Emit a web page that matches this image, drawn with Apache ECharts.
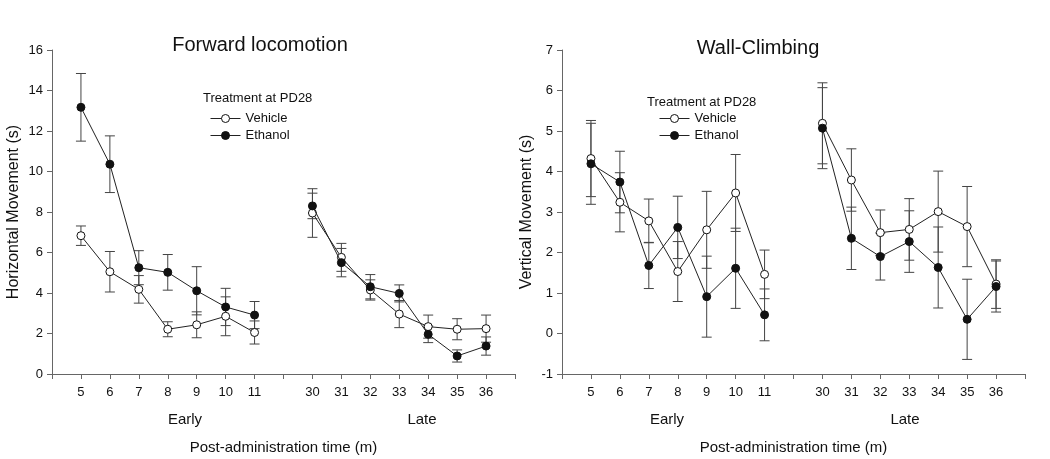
<!DOCTYPE html>
<html>
<head>
<meta charset="utf-8">
<script src="https://cdn.jsdelivr.net/npm/echarts@6/dist/echarts.min.js"></script>
<style>html,body{margin:0;padding:0;background:#fff}#c{width:1050px;height:459px}</style>
</head>
<body>
<div id="c"></div>
<script>
// ---- tick labels / categories ----
const xTickLabels = ['', '5', '6', '7', '8', '9', '10', '11', '', '30', '31', '32', '33', '34', '35', '36', ''];
const earlyTimes = [5, 6, 7, 8, 9, 10, 11];
const lateTimes = [30, 31, 32, 33, 34, 35, 36];
const leftYTicks = [0, 16, 2];   // min, max, step
const rightYTicks = [-1, 7, 1];

// ---- Forward locomotion (Horizontal Movement, s) ----
const fwdVehEarly = [6.83, 5.05, 4.18, 2.21, 2.43, 2.85, 2.05];
const fwdVehEarlySE = [0.48, 1.00, 0.68, 0.37, 0.64, 0.96, 0.57];
const fwdEthEarly = [13.17, 10.36, 5.25, 5.02, 4.11, 3.31, 2.91];
const fwdEthEarlySE = [1.67, 1.40, 0.84, 0.88, 1.19, 0.92, 0.67];
const fwdVehLate = [7.95, 5.76, 4.15, 2.96, 2.34, 2.21, 2.24];
const fwdVehLateSE = [1.20, 0.69, 0.50, 0.67, 0.57, 0.52, 0.67];
const fwdEthLate = [8.30, 5.50, 4.31, 3.98, 1.96, 0.89, 1.38];
const fwdEthLateSE = [0.63, 0.70, 0.60, 0.42, 0.41, 0.30, 0.45];

// ---- Wall-Climbing (Vertical Movement, s) ----
const wallVehEarly = [4.32, 3.24, 2.78, 1.53, 2.56, 3.47, 1.46];
const wallVehEarlySE = [0.94, 0.73, 0.54, 0.74, 0.95, 0.95, 0.60];
const wallEthEarly = [4.19, 3.74, 1.68, 2.62, 0.91, 1.61, 0.46];
const wallEthEarlySE = [1.00, 0.76, 0.57, 0.77, 1.00, 0.99, 0.64];
const wallVehLate = [5.19, 3.79, 2.49, 2.57, 3.01, 2.64, 1.22];
const wallVehLateSE = [1.00, 0.77, 0.56, 0.76, 1.00, 0.99, 0.60];
const wallEthLate = [5.07, 2.35, 1.90, 2.27, 1.63, 0.35, 1.16];
const wallEthLateSE = [1.00, 0.77, 0.58, 0.76, 1.00, 0.99, 0.63];

const F = '"Liberation Sans", Arial, sans-serif';
const AX = '#666';
const TXT = '#111';

function xPos(t) { return xTickLabels.indexOf(String(t)); }
function pts(times, vals) { return times.map((t, i) => [xPos(t), vals[i]]); }
function errs(times, vals, se) { return times.map((t, i) => [xPos(t), vals[i] - se[i], vals[i] + se[i]]); }

function errRender(params, api) {
  const x = api.value(0), lo = api.value(1), hi = api.value(2);
  const a = api.coord([x, hi]), b = api.coord([x, lo]);
  const w = 5;
  const style = { stroke: '#444', lineWidth: 1 };
  return {
    type: 'group',
    children: [
      { type: 'line', shape: { x1: a[0], y1: a[1], x2: b[0], y2: b[1] }, style },
      { type: 'line', shape: { x1: a[0] - w, y1: a[1], x2: a[0] + w, y2: a[1] }, style },
      { type: 'line', shape: { x1: b[0] - w, y1: b[1], x2: b[0] + w, y2: b[1] }, style }
    ]
  };
}

function xAxis(gi) {
  return {
    type: 'value', gridIndex: gi, min: 0, max: 16, interval: 1,
    axisLine: { show: true, onZero: false, lineStyle: { color: AX, width: 1 } },
    axisTick: { show: true, length: 5, lineStyle: { color: AX } },
    axisLabel: { margin: 12, fontSize: 13, color: TXT, fontFamily: F, showMinLabel: true, showMaxLabel: true,
      formatter: v => xTickLabels[Math.round(v)] || '' },
    splitLine: { show: false },
    name: 'Post-administration time (m)', nameLocation: 'middle', nameGap: 66,
    nameTextStyle: { fontSize: 15, color: TXT, fontFamily: F }
  };
}
function yAxis(gi, ticks, name, gap) {
  return {
    type: 'value', gridIndex: gi, min: ticks[0], max: ticks[1], interval: ticks[2],
    axisLine: { show: true, onZero: false, lineStyle: { color: AX, width: 1 } },
    axisTick: { show: true, length: 5, lineStyle: { color: AX } },
    axisLabel: { margin: 9, fontSize: 13, color: TXT, fontFamily: F },
    splitLine: { show: false },
    name: name, nameLocation: 'middle', nameGap: gap,
    nameTextStyle: { fontSize: 16, color: TXT, fontFamily: F }
  };
}

function lineSeries(name, gi, data, filled) {
  return {
    type: 'line', name: name, xAxisIndex: gi, yAxisIndex: gi, data: data, z: filled ? 4 : 3,
    symbol: 'circle', symbolSize: 8, showAllSymbol: true,
    lineStyle: { color: '#222', width: 1 },
    itemStyle: { color: filled ? '#111' : '#fff', borderColor: '#111', borderWidth: 1 },
    emphasis: { disabled: true }, animation: false
  };
}
function errSeries(gi, data) {
  return {
    type: 'custom', xAxisIndex: gi, yAxisIndex: gi, renderItem: errRender, data: data, z: 2,
    encode: { x: 0, y: [1, 2] }, silent: true, animation: false
  };
}

function legend(left, top) {
  return {
    left: left, top: top, orient: 'vertical', padding: 0, itemGap: 4, itemWidth: 30, itemHeight: 10,
    selectedMode: false,
    textStyle: { fontSize: 13, color: TXT, fontFamily: F },
    data: [
      { name: 'Vehicle', itemStyle: { color: '#fff', borderColor: '#111', borderWidth: 1 }, lineStyle: { color: '#222', width: 1 } },
      { name: 'Ethanol', itemStyle: { color: '#111', borderColor: '#111', borderWidth: 1 }, lineStyle: { color: '#222', width: 1 } }
    ]
  };
}

function txt(x, y, s, size, align) {
  return { type: 'text', x: x, y: y, style: { text: s, fontSize: size, fontFamily: F, fill: TXT, textAlign: align || 'center', textVerticalAlign: 'middle' } };
}

const chart = echarts.init(document.getElementById('c'), null, { renderer: 'canvas' });
chart.setOption({
  backgroundColor: '#fff',
  animation: false,
  grid: [
    { left: 52, top: 50, width: 463, height: 324, containLabel: false, outerBoundsMode: 'none' },
    { left: 562, top: 50, width: 463, height: 324, containLabel: false, outerBoundsMode: 'none' }
  ],
  xAxis: [xAxis(0), xAxis(1)],
  yAxis: [yAxis(0, leftYTicks, 'Horizontal Movement (s)', 30), yAxis(1, rightYTicks, 'Vertical Movement (s)', 27)],
  legend: [legend(210, 112), legend(659, 112)],
  graphic: [
    txt(260, 45, 'Forward locomotion', 20),
    txt(758, 48, 'Wall-Climbing', 20),
    txt(203, 98, 'Treatment at PD28', 13, 'left'),
    txt(647, 102, 'Treatment at PD28', 13, 'left'),
    txt(185, 420, 'Early', 15),
    txt(422, 420, 'Late', 15),
    txt(667, 420, 'Early', 15),
    txt(905, 420, 'Late', 15)
  ],
  series: [
    errSeries(0, errs(earlyTimes, fwdVehEarly, fwdVehEarlySE).concat(errs(lateTimes, fwdVehLate, fwdVehLateSE),
      errs(earlyTimes, fwdEthEarly, fwdEthEarlySE), errs(lateTimes, fwdEthLate, fwdEthLateSE))),
    lineSeries('Vehicle', 0, pts(earlyTimes, fwdVehEarly), false),
    lineSeries('Vehicle', 0, pts(lateTimes, fwdVehLate), false),
    lineSeries('Ethanol', 0, pts(earlyTimes, fwdEthEarly), true),
    lineSeries('Ethanol', 0, pts(lateTimes, fwdEthLate), true),
    errSeries(1, errs(earlyTimes, wallVehEarly, wallVehEarlySE).concat(errs(lateTimes, wallVehLate, wallVehLateSE),
      errs(earlyTimes, wallEthEarly, wallEthEarlySE), errs(lateTimes, wallEthLate, wallEthLateSE))),
    lineSeries('Vehicle', 1, pts(earlyTimes, wallVehEarly), false),
    lineSeries('Vehicle', 1, pts(lateTimes, wallVehLate), false),
    lineSeries('Ethanol', 1, pts(earlyTimes, wallEthEarly), true),
    lineSeries('Ethanol', 1, pts(lateTimes, wallEthLate), true)
  ]
});
</script>
</body>
</html>
